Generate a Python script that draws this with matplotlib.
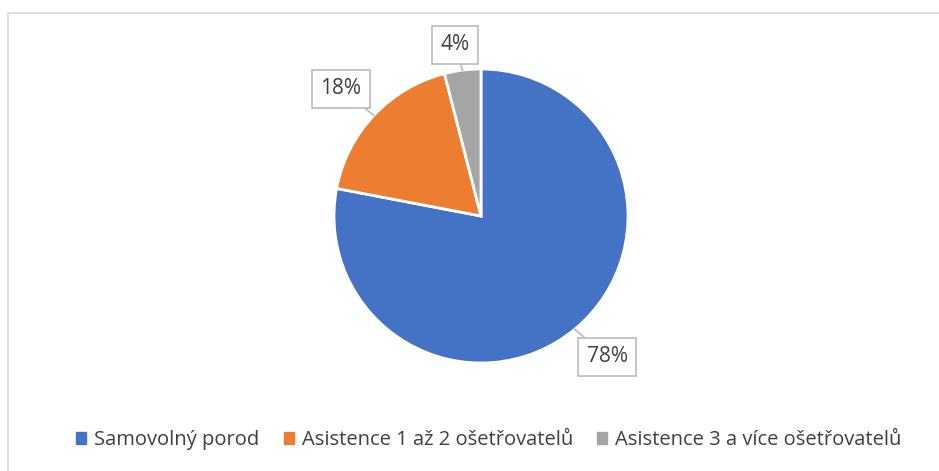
import matplotlib
matplotlib.use("Agg")
import matplotlib.pyplot as plt
import numpy as np

categories = ["Samovolný porod", "Asistence 1 až 2 ošetřovatelů", "Asistence 3 a více ošetřovatelů"]
shares = [78, 18, 4]
labels = ["78%", "18%", "4%"]
colors = ["#4472C4", "#ED7D31", "#A5A5A5"]

# label box centres (pixel layout, y measured from the top)
label_pos = [(607, 357), (341, 89), (455, 45)]

W, H = 939, 471
fig = plt.figure(figsize=(W / 100, H / 100), dpi=100)
ax = fig.add_axes([0, 0, 1, 1])

# outer chart border
ax.add_patch(plt.Rectangle((8, -10), W, H - 13 + 10, fill=False,
                           edgecolor="#D9D9D9", linewidth=1.2))

cx, cy, r = 481, H - 216, 147
wedges, _ = ax.pie(shares, colors=colors, startangle=90, counterclock=False,
                   center=(cx, cy), radius=r, frame=True,
                   wedgeprops=dict(edgecolor="white", linewidth=2))
ax.set_xlim(0, W)
ax.set_ylim(0, H)
ax.set_aspect("equal")
ax.axis("off")

for w, lab, (lx, ly) in zip(wedges, labels, label_pos):
    ang = np.deg2rad((w.theta1 + w.theta2) / 2)
    ex, ey = cx + r * np.cos(ang), cy + r * np.sin(ang)
    ax.annotate(lab, xy=(ex, ey), xytext=(lx, H - ly),
                ha="center", va="center", fontsize=15, color="#404040",
                family="Open Sans",
                bbox=dict(boxstyle="square,pad=0.4", fc="white", ec="#BFBFBF", lw=1.3),
                arrowprops=dict(arrowstyle="-", color="#BFBFBF", lw=1.3,
                                shrinkA=0, shrinkB=0))

handles = [plt.Rectangle((0, 0), 1, 1, color=c) for c in colors]
fig.legend(handles, categories, loc="center", bbox_to_anchor=(489 / W, 1 - 440 / H),
           ncol=3, frameon=False, handlelength=0.5, handleheight=0.5,
           handletextpad=0.4, columnspacing=1.2, labelcolor="#404040",
           prop=dict(family="Open Sans", size=14.5))

fig.savefig("out.png", dpi=100)
